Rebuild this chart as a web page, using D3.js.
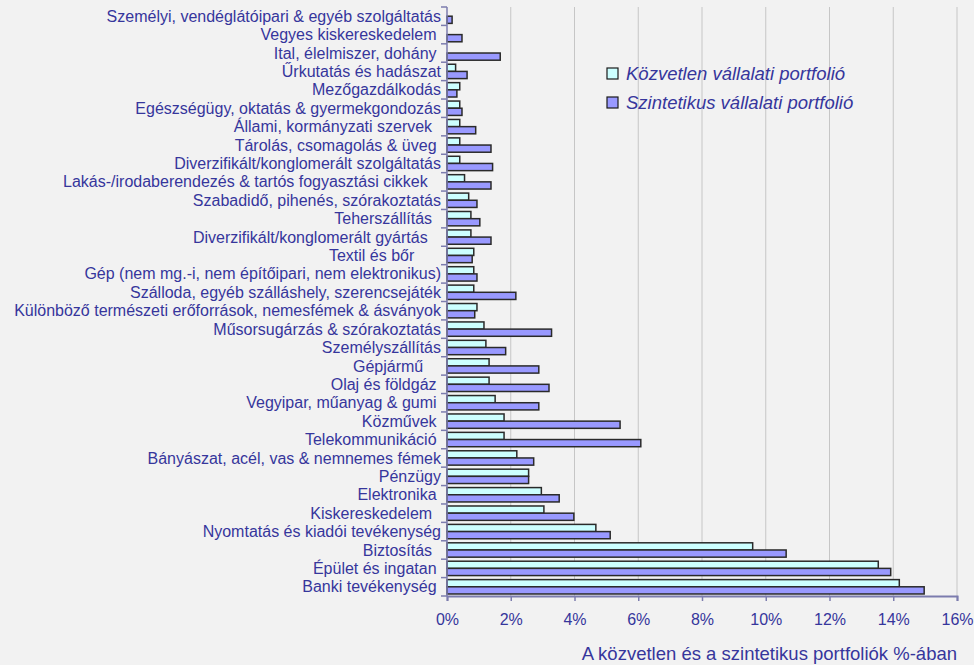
<!DOCTYPE html>
<html>
<head>
<meta charset="utf-8">
<script src="https://cdnjs.cloudflare.com/ajax/libs/d3/7.8.5/d3.min.js"></script>
<style>
  body { margin: 0; background: #f2f2f2; }
  text { font-family: "Liberation Sans", Arial, sans-serif; }
</style>
</head>
<body>
<div id="viz"></div>
<script>
// Sector shares, top to bottom as in the picture (trailing spaces are part of the original labels)
const categories = [
    "Személyi, vendéglátóipari & egyéb szolgáltatás",
    "Vegyes kiskereskedelem ",
    "Ital, élelmiszer, dohány ",
    "Űrkutatás és hadászat",
    "Mezőgazdálkodás",
    "Egészségügy, oktatás & gyermekgondozás",
    "Állami, kormányzati szervek  ",
    "Tárolás, csomagolás & üveg ",
    "Diverzifikált/konglomerált szolgáltatás",
    "Lakás-/irodaberendezés & tartós fogyasztási cikkek   ",
    "Szabadidő, pihenés, szórakoztatás",
    "Teherszállítás  ",
    "Diverzifikált/konglomerált gyártás   ",
    "Textil és bőr      ",
    "Gép (nem mg.-i, nem építőipari, nem elektronikus)",
    "Szálloda, egyéb szálláshely, szerencsejáték",
    "Különböző természeti erőforrások, nemesfémek & ásványok",
    "Műsorsugárzás & szórakoztatás",
    "Személyszállítás",
    "Gépjármű    ",
    "Olaj és földgáz ",
    "Vegyipar, műanyag & gumi ",
    "Közművek ",
    "Telekommunikáció ",
    "Bányászat, acél, vas & nemnemes fémek",
    "Pénzügy",
    "Elektronika ",
    "Kiskereskedelem  ",
    "Nyomtatás és kiadói tevékenység",
    "Biztosítás  ",
    "Épület és ingatan ",
    "Banki tevékenység "
];

const direct = [
    0, 0, 0, 0.27, 0.40, 0.40, 0.40, 0.40,
    0.40, 0.55, 0.68, 0.75, 0.75, 0.84, 0.84, 0.84,
    0.94, 1.16, 1.22, 1.32, 1.32, 1.51, 1.79, 1.79,
    2.19, 2.56, 2.96, 3.04, 4.67, 9.59, 13.53, 14.19
];

const synthetic = [
    0.16, 0.47, 1.67, 0.63, 0.31, 0.47, 0.90, 1.38,
    1.43, 1.38, 0.94, 1.03, 1.38, 0.79, 0.94, 2.16,
    0.87, 3.28, 1.84, 2.88, 3.20, 2.88, 5.43, 6.08,
    2.72, 2.56, 3.52, 3.98, 5.12, 10.64, 13.92, 14.97
];

const seriesNames = ["Közvetlen vállalati portfolió", "Szintetikus vállalati portfolió"];
const seriesColors = ["#ccffff", "#9999ff"];
const xTicks = [0, 2, 4, 6, 8, 10, 12, 14, 16];
const xTitle = "A közvetlen és a szintetikus portfoliók %-ában";

// Dimensions
const dims = {
    width: 974,
    height: 665,
    margin: { top: 7, right: 17, bottom: 69, left: 447 }
};
const textColor = "#36369c";
const axisColor = "#7c7cae";

const svg = d3.select("#viz")
    .append("svg")
    .attr("width", dims.width)
    .attr("height", dims.height)
    .style("display", "block")
    .style("background-color", "#f2f2f2");

const x = d3.scaleLinear()
    .domain([0, 16])
    .range([dims.margin.left, dims.width - dims.margin.right]);

const y = d3.scaleBand()
    .domain(d3.range(categories.length))
    .range([dims.margin.top, dims.height - dims.margin.bottom])
    .paddingInner(0.22)
    .paddingOuter(0.11);

const ySub = d3.scaleBand()
    .domain([0, 1])
    .range([0, y.bandwidth()]);

// vertical gridlines
svg.append("g")
    .selectAll("line")
    .data(xTicks.slice(1))
    .join("line")
    .attr("x1", d => x(d))
    .attr("x2", d => x(d))
    .attr("y1", dims.margin.top)
    .attr("y2", dims.height - dims.margin.bottom)
    .attr("stroke", "#c6c6c6")
    .attr("stroke-width", 1);

// bars
const rows = categories.map((c, i) => ({ i, values: [direct[i], synthetic[i]] }));

const rowG = svg.append("g")
    .selectAll("g")
    .data(rows)
    .join("g")
    .attr("transform", d => `translate(0, ${y(d.i)})`);

rowG.selectAll("rect")
    .data(d => d.values.map((v, s) => ({ v, s })).filter(e => e.v > 0))
    .join("rect")
    .attr("x", x(0))
    .attr("y", d => ySub(d.s))
    .attr("width", d => x(d.v) - x(0))
    .attr("height", ySub.bandwidth())
    .attr("fill", d => seriesColors[d.s])
    .attr("stroke", "#2a2a2a")
    .attr("stroke-width", 1.5);

// category labels
svg.append("g")
    .selectAll("text")
    .data(categories)
    .join("text")
    .attr("x", dims.margin.left - 6)
    .attr("y", (d, i) => y(i) + y.bandwidth() / 2)
    .attr("dy", "0.35em")
    .attr("text-anchor", "end")
    .attr("font-size", "16px")
    .attr("fill", textColor)
    .style("white-space", "pre")
    .text(d => d);

// y axis with ticks between categories
const yAxis = svg.append("g");
yAxis.append("line")
    .attr("x1", x(0)).attr("x2", x(0))
    .attr("y1", dims.margin.top)
    .attr("y2", dims.height - dims.margin.bottom)
    .attr("stroke", axisColor)
    .attr("stroke-width", 1.5);

const boundaries = d3.range(categories.length + 1)
    .map(i => dims.margin.top + i * y.step());

yAxis.selectAll("line.tick")
    .data(boundaries)
    .join("line")
    .attr("class", "tick")
    .attr("x1", x(0) - 6).attr("x2", x(0))
    .attr("y1", d => d).attr("y2", d => d)
    .attr("stroke", axisColor)
    .attr("stroke-width", 1.5);

// x axis
const xAxis = svg.append("g")
    .attr("transform", `translate(0, ${dims.height - dims.margin.bottom})`)
    .call(d3.axisBottom(x)
        .tickValues(xTicks)
        .tickFormat(d => d + "%")
        .tickSize(5)
        .tickPadding(13));

xAxis.select(".domain").attr("stroke", axisColor).attr("stroke-width", 2);
xAxis.selectAll(".tick line").attr("stroke", axisColor).attr("stroke-width", 1.5);
xAxis.selectAll(".tick text")
    .attr("fill", textColor)
    .attr("font-size", "16px")
    .attr("font-family", "Liberation Sans, Arial, sans-serif");

svg.append("text")
    .attr("x", x(16))
    .attr("y", 660)
    .attr("text-anchor", "end")
    .attr("font-size", "18.5px")
    .attr("fill", textColor)
    .text(xTitle);

// legend
const legend = svg.append("g")
    .selectAll("g")
    .data(seriesNames)
    .join("g")
    .attr("transform", (d, i) => `translate(607, ${68 + i * 29})`);

legend.append("rect")
    .attr("width", 11)
    .attr("height", 11)
    .attr("fill", (d, i) => seriesColors[i])
    .attr("stroke", "#1a1a1a")
    .attr("stroke-width", 1.2);

legend.append("text")
    .attr("x", 19)
    .attr("y", 6)
    .attr("dy", "0.35em")
    .attr("font-size", "18.5px")
    .attr("font-style", "italic")
    .attr("fill", textColor)
    .text(d => d);
</script>
</body>
</html>
